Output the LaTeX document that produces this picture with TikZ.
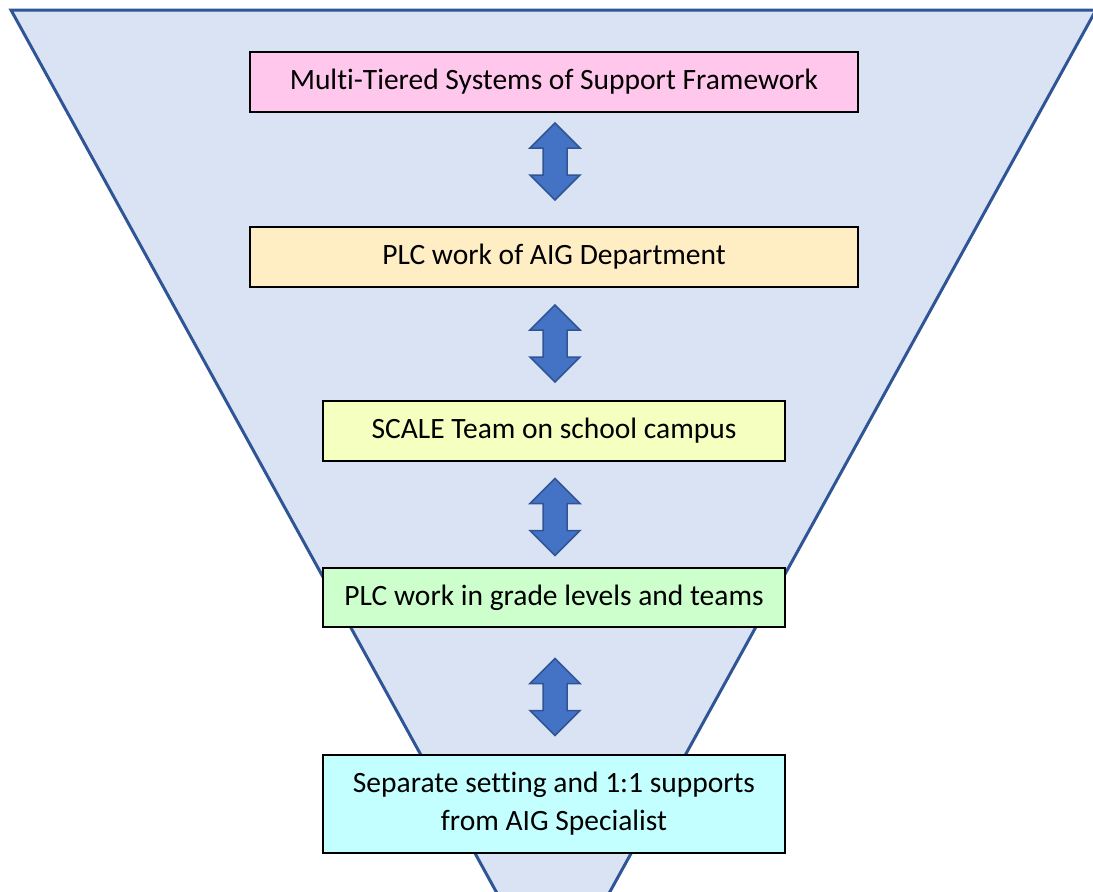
\documentclass[tikz,border=0pt]{standalone}
\usepackage{fontspec}
\setmainfont[Ligatures=NoCommon]{Carlito}
\definecolor{funnelfill}{HTML}{DAE3F3}
\definecolor{funnelline}{HTML}{2F5597}
\definecolor{arrowfill}{HTML}{4472C4}
\definecolor{mtsspink}{HTML}{FFC7EC}
\definecolor{plcpeach}{HTML}{FFEDC4}
\definecolor{scaleyellow}{HTML}{F5FFC0}
\definecolor{gradegreen}{HTML}{CCFFCC}
\definecolor{aigcyan}{HTML}{C4FFFF}

\begin{document}
\begin{tikzpicture}[x=1pt, y=-1pt,
    tier/.style ={rectangle, draw=black, line width=1.5pt, inner sep=0pt, align=center,
                  font=\fontsize{29.5}{38}\selectfont},
    twoway/.pic ={\draw[fill=arrowfill, draw=funnelline, line width=1.5pt, line join=miter]
                  (0,-38.5) -- (25,-13.5) -- (12,-13.5) -- (12,13.5) -- (25,13.5) -- (0,38.5)
                  -- (-25,13.5) -- (-12,13.5) -- (-12,-13.5) -- (-25,-13.5) -- cycle;}]
   \useasboundingbox (0,0) rectangle (1093,892);

   % funnel behind everything
   \begin{scope}
     \clip (0,0) rectangle (1093,892);
     \draw[fill=funnelfill, draw=funnelline, line width=3pt, line join=miter]
       (11,10) -- (1096,10) -- (553,995) -- cycle;
   \end{scope}

   \node[tier, fill=mtsspink,    minimum width=608pt, minimum height=60pt] (mtss)  at (554,82)    {Multi-Tiered Systems of Support Framework};
   \node[tier, fill=plcpeach,    minimum width=608pt, minimum height=60pt] (plc)   at (554,257)   {PLC work of AIG Department};
   \node[tier, fill=scaleyellow, minimum width=462pt, minimum height=60pt] (scale) at (554,431)   {SCALE Team on school campus};
   \node[tier, fill=gradegreen,  minimum width=462pt, minimum height=59pt] (grade) at (554,597.5) {PLC work in grade levels and teams};
   \node[tier, fill=aigcyan,     minimum width=462pt, minimum height=98pt] (aig)   at (554,804)   {Separate setting and 1:1 supports\\from AIG Specialist};

   \path (555,161.5) pic {twoway};
   \path (555,343.5) pic {twoway};
   \path (555,517)   pic {twoway};
   \path (555,697)   pic {twoway};
 \end{tikzpicture}
\end{document}
